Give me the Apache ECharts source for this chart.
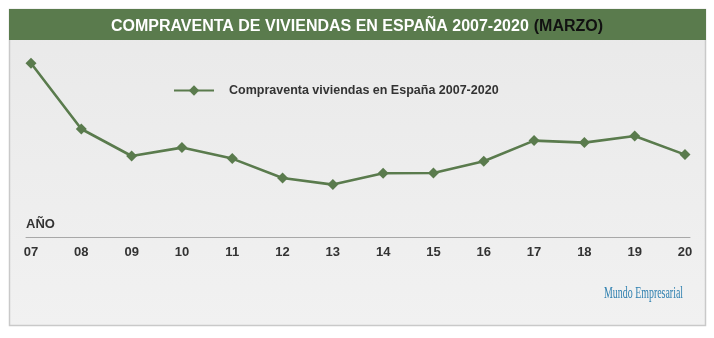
<!DOCTYPE html>
<html>
<head>
<meta charset="utf-8">
<script src="https://cdn.jsdelivr.net/npm/echarts@6/dist/echarts.min.js"></script>
<style>
  html, body { margin: 0; padding: 0; background: #ffffff; }
  #chart { width: 714px; height: 338px; }
</style>
</head>
<body>
<div id="chart"></div>
<script>
// Year labels (March of each year, 2007-2020)
const years = ['07', '08', '09', '10', '11', '12', '13', '14', '15', '16', '17', '18', '19', '20'];
// Home sales in March, thousands of transactions
const sales = [86.9, 54.0, 40.5, 44.7, 39.2, 29.5, 26.2, 31.9, 32.0, 37.9, 48.2, 47.2, 50.5, 41.2];
const seriesName = 'Compraventa viviendas en España 2007-2020';
const titleMain = 'COMPRAVENTA DE VIVIENDAS EN ESPAÑA 2007-2020';
const titleSub = '(MARZO)';
const axisTitle = 'AÑO';
const credit = 'Mundo Empresarial';

const sans = '"Liberation Sans", Arial, sans-serif';
const green = '#5a7b4d';

const chart = echarts.init(document.getElementById('chart'), null, { renderer: 'canvas' });

chart.setOption({
  backgroundColor: '#ffffff',
  animation: false,
  graphic: [
    // panel with soft gray fill and thin border
    {
      type: 'rect', z: -10, silent: true,
      shape: { x: 9.5, y: 9.5, width: 696, height: 316 },
      style: {
        fill: new echarts.graphic.LinearGradient(0, 0, 0, 1, [
          { offset: 0, color: '#e9e9e9' },
          { offset: 1, color: '#f1f1f1' }
        ]),
        stroke: '#c9c9c9', lineWidth: 1.5
      }
    },
    // header band
    {
      type: 'rect', z: -9, silent: true,
      shape: { x: 9, y: 9, width: 697, height: 31 },
      style: { fill: green }
    },
    {
      type: 'text', left: 26, top: 218, silent: true,
      style: { text: axisTitle, font: 'bold 13px ' + sans, fill: '#333333' }
    },
    {
      type: 'text', x: 604, y: 286, scaleX: 0.62, silent: true,
      style: { text: credit, font: '16px "Liberation Serif", "DejaVu Serif", serif', fill: '#2f80b0' }
    }
  ],
  title: {
    left: 'center', top: 13,
    text: '{a|' + titleMain + '} {b|' + titleSub + '}',
    textStyle: {
      rich: {
        a: { fontFamily: sans, fontWeight: 'bold', fontSize: 16, color: '#ffffff' },
        b: { fontFamily: sans, fontWeight: 'bold', fontSize: 16, color: '#111111' }
      }
    }
  },
  legend: {
    left: 168, top: 79,
    itemWidth: 40, itemHeight: 13,
    data: [seriesName],
    textStyle: {
      fontFamily: sans, fontWeight: 'bold', fontSize: 12.5, color: '#333333',
      padding: [0, 0, 0, 10]
    }
  },
  grid: { left: 26, right: 24, top: 37, bottom: 101 },
  xAxis: {
    type: 'value',
    min: -0.1, max: 13.1,
    splitLine: { show: false },
    axisTick: { show: false },
    axisLine: { show: true, lineStyle: { color: '#a8a8a8', width: 1 } },
    axisLabel: {
      customValues: years.map((_, i) => i),
      formatter: v => years[v],
      margin: 9,
      fontFamily: sans, fontWeight: 'bold', fontSize: 13, color: '#333333'
    }
  },
  yAxis: {
    type: 'value', min: 0, max: 100, show: false,
    splitLine: { show: false }
  },
  series: [{
    name: seriesName,
    type: 'line',
    data: sales.map((v, i) => [i, v]),
    symbol: 'diamond',
    symbolSize: [11, 11],
    showSymbol: true,
    itemStyle: { color: green },
    lineStyle: { color: green, width: 2.6 }
  }]
});
</script>
</body>
</html>
